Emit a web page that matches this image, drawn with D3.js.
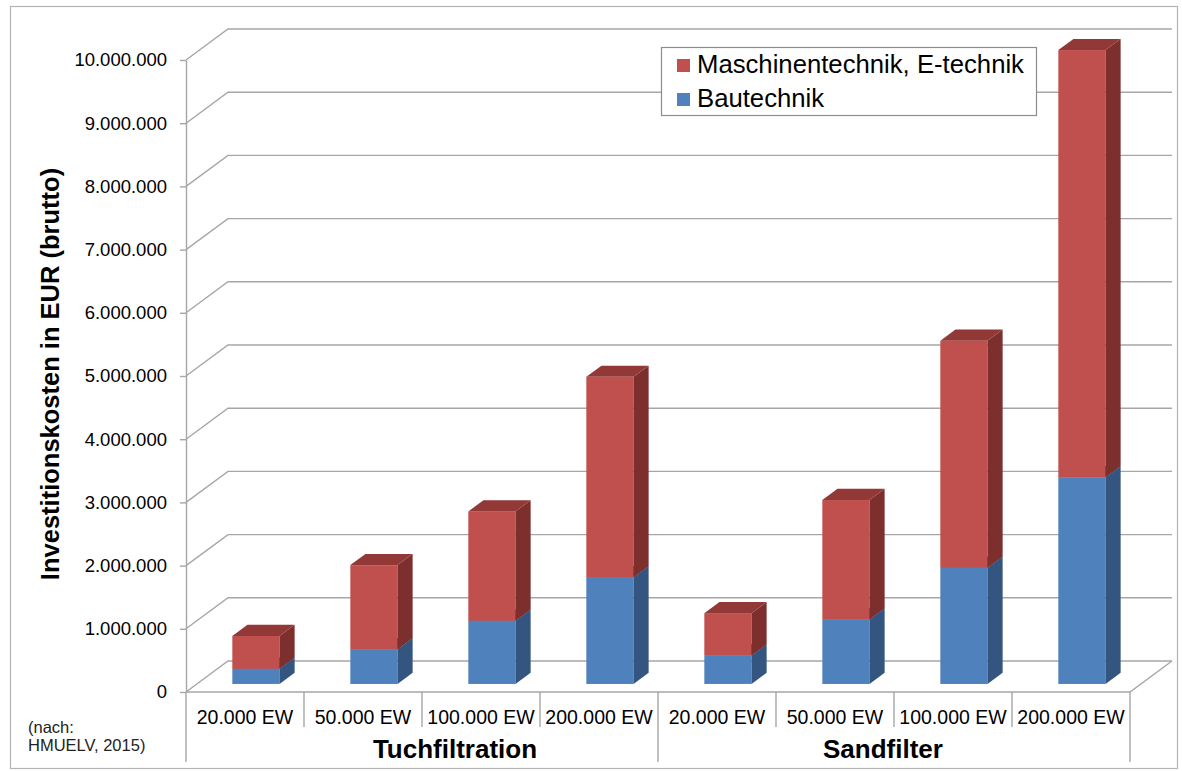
<!DOCTYPE html>
<html>
<head>
<meta charset="utf-8">
<script src="https://cdn.jsdelivr.net/npm/d3@7"></script>
<style>
  html, body { margin: 0; padding: 0; background: #fff; }
  svg { display: block; font-family: "Liberation Sans", Arial, sans-serif; }
</style>
</head>
<body>
<svg id="chart" width="1182" height="771"></svg>
<script>
// Investment costs (gross, EUR) per plant size and filter type
const categories = ["20.000 EW", "50.000 EW", "100.000 EW", "200.000 EW",
                    "20.000 EW", "50.000 EW", "100.000 EW", "200.000 EW"];
const groups = ["Tuchfiltration", "Sandfilter"];
const groupSize = 4;
const bautechnik       = [240000, 550000, 1000000, 1690000, 450000, 1020000, 1840000, 3270000];
const maschinentechnik = [520000, 1330000, 1730000, 3170000, 670000, 1890000, 3590000, 6760000];
const seriesNames = ["Maschinentechnik, E-technik", "Bautechnik"];
const yTicks = [0, 1000000, 2000000, 3000000, 4000000, 5000000, 6000000, 7000000, 8000000, 9000000, 10000000];

const svg = d3.select("#chart");

// Outer frame
svg.append("rect")
  .attr("x", 10.5).attr("y", 6.5).attr("width", 1167).attr("height", 762)
  .attr("fill", "#fff").attr("stroke", "#b4b4b4").attr("stroke-width", 1.2);

// Pseudo-3D geometry: full depth offset of the plot box
const DEPTH_X = 42, DEPTH_Y = 31;
const left = 186, right = 1130;

const x = d3.scaleBand().domain(d3.range(categories.length)).range([left, right]);
const y = d3.scaleLinear().domain([0, 10000000]).range([692, 60]);

const gridColor = "#a6a6a6";
const grid = svg.append("g").attr("fill", "none").attr("stroke", gridColor).attr("stroke-width", 1.4);

// Back wall gridlines plus diagonals on the left side wall
yTicks.forEach(v => {
  const yf = y(v), yb = y(v) - DEPTH_Y;
  grid.append("path").attr("d", `M${left},${yf}L${left + DEPTH_X},${yb}L${right + DEPTH_X},${yb}`);
});
// Floor: front edge and right diagonal
grid.append("path").attr("d", `M${left},${y(0)}L${right},${y(0)}L${right + DEPTH_X},${y(0) - DEPTH_Y}`);

// Front vertical axis with ticks
const fmt = d3.formatLocale({ decimal: ",", thousands: ".", grouping: [3], currency: ["", " €"] }).format(",d");
const yAxis = svg.append("g")
  .attr("transform", `translate(${left},0)`)
  .call(d3.axisLeft(y).tickValues(yTicks).tickFormat(fmt).tickSize(6).tickSizeOuter(0).tickPadding(13));
yAxis.select(".domain").attr("stroke", gridColor).attr("stroke-width", 1.4);
yAxis.selectAll(".tick line").attr("stroke", gridColor).attr("stroke-width", 1.4);
yAxis.selectAll(".tick text").attr("fill", "#000").style("font-size", "18.5px")
  .style("font-family", "'Liberation Sans', Arial, sans-serif");

// Category axis: separators and labels
const catAxis = svg.append("g").attr("stroke", gridColor).attr("stroke-width", 1.4);
d3.range(categories.length + 1).forEach(i => {
  const xx = i < categories.length ? x(i) : right;
  const isGroupEdge = i % groupSize === 0;
  catAxis.append("line").attr("x1", xx).attr("x2", xx)
    .attr("y1", y(0)).attr("y2", isGroupEdge ? 762 : 727);
});
svg.append("g").selectAll("text").data(categories).join("text")
  .attr("x", (d, i) => x(i) + x.bandwidth() / 2)
  .attr("y", 724)
  .attr("text-anchor", "middle")
  .style("font-size", "19.5px")
  .text(d => d);
// Group labels sit slightly off the group centre, as in the spreadsheet layout
const groupShift = [33, -11];
svg.append("g").selectAll("text").data(groups).join("text")
  .attr("x", (d, i) => {
    const a = x(i * groupSize);
    const b = i * groupSize + groupSize < categories.length ? x(i * groupSize + groupSize) : right;
    return (a + b) / 2 + groupShift[i];
  })
  .attr("y", 758)
  .attr("text-anchor", "middle")
  .style("font-size", "26px").style("font-weight", "bold")
  .text(d => d);

// Stacked 3D columns
const barW = x.bandwidth() * 0.4;
const fd = 0.26, bd = 0.62; // front / back depth of the columns
const fdx = fd * DEPTH_X, fdy = fd * DEPTH_Y;
const sdx = (bd - fd) * DEPTH_X, sdy = (bd - fd) * DEPTH_Y;
const palette = {
  bau:  { front: "#4f81bd", side: "#33557f", top: "#3d6699" },
  masch:{ front: "#c0504d", side: "#7d2f2e", top: "#923937" }
};
const bars = svg.append("g");
categories.forEach((c, i) => {
  const x0 = x(i) + (x.bandwidth() - barW) / 2 + fdx;
  const segs = [
    { lo: 0, hi: bautechnik[i], col: palette.bau },
    { lo: bautechnik[i], hi: bautechnik[i] + maschinentechnik[i], col: palette.masch }
  ];
  segs.forEach(s => {
    const yb = y(s.lo) - fdy, yt = y(s.hi) - fdy;
    const x1 = x0 + barW;
    bars.append("rect").attr("x", x0).attr("y", yt).attr("width", barW).attr("height", yb - yt)
      .attr("fill", s.col.front);
    bars.append("path")
      .attr("d", `M${x1},${yb}L${x1 + sdx},${yb - sdy}L${x1 + sdx},${yt - sdy}L${x1},${yt}Z`)
      .attr("fill", s.col.side);
    bars.append("path")
      .attr("d", `M${x0},${yt}L${x1},${yt}L${x1 + sdx},${yt - sdy}L${x0 + sdx},${yt - sdy}Z`)
      .attr("fill", s.col.top);
  });
});

// Y axis title
svg.append("text")
  .attr("transform", "translate(59,374) rotate(-90)")
  .attr("text-anchor", "middle")
  .style("font-size", "25.5px").style("font-weight", "bold")
  .text("Investitionskosten in EUR (brutto)");

// Source note
const note = svg.append("text").style("font-size", "16.5px").attr("fill", "#222");
note.append("tspan").attr("x", 28).attr("y", 733).text("(nach:");
note.append("tspan").attr("x", 28).attr("y", 751).text("HMUELV, 2015)");

// Legend
const legend = svg.append("g");
legend.append("rect").attr("x", 661.5).attr("y", 47.5).attr("width", 375).attr("height", 68)
  .attr("fill", "#fff").attr("stroke", "#8c8c8c").attr("stroke-width", 1.2);
const legendColors = [palette.masch.front, palette.bau.front];
seriesNames.forEach((name, k) => {
  const base = 73 + k * 34;
  legend.append("rect").attr("x", 677).attr("y", base - 14).attr("width", 13).attr("height", 13)
    .attr("fill", legendColors[k]);
  legend.append("text").attr("x", 697).attr("y", base)
    .style("font-size", "25.7px").text(name);
});
</script>
</body>
</html>
